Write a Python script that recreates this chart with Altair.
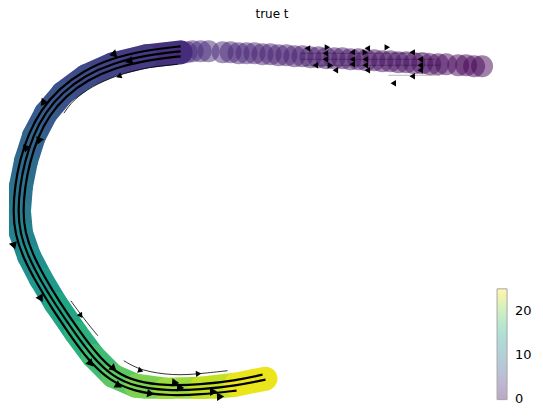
import pandas as pd
import altair as alt

# centre line of the trajectory (page-like units), with pseudotime t
band_x = [180, 145, 112, 85, 62, 45, 33, 25, 20, 18, 20, 28, 40, 55, 75, 92, 112, 135, 165, 200, 235, 265]
band_y = [51, 55, 63, 75, 92, 112, 135, 160, 185, 210, 232, 255, 278, 303, 332, 355, 375, 385, 389, 388, 384, 378]
band_t = [3, 3.8, 4.5, 5.2, 5.9, 6.6, 7.4, 8.2, 9, 9.9, 10.8, 11.8, 12.8, 14, 15.3, 16.6, 18, 19.4, 20.7, 22, 23.5, 25]

# loose cells along the top branch
top_x = [186, 192, 200, 208, 222, 230, 238, 246, 254, 262, 270, 278, 286, 294, 302, 310, 318, 326, 334, 342,
         350, 358, 366, 374, 382, 390, 398, 406, 414, 422, 430, 438, 446, 458, 466, 474, 482]
top_y = [51, 50, 50, 50, 51, 51, 52, 52, 52, 53, 53, 54, 54, 55, 55, 56, 56, 57, 57, 57,
         58, 58, 59, 59, 60, 60, 61, 61, 62, 62, 63, 63, 63, 64, 64, 65, 65]
top_t = [2.9, 2.85, 2.8, 2.75, 2.6, 2.55, 2.5, 2.4, 2.35, 2.3, 2.2, 2.1, 2.05, 1.95, 1.85, 1.8, 1.7, 1.6, 1.55, 1.45,
         1.4, 1.3, 1.2, 1.1, 1.05, 0.95, 0.9, 0.8, 0.7, 0.6, 0.5, 0.45, 0.35, 0.25, 0.15, 0.05, 0]

# thick streamlines
s1_x = [180, 144, 110, 82, 58, 40, 27.5, 19, 14, 12, 14, 22.5, 35, 50, 70, 87, 108.5, 133.5, 164.7, 200.4, 236]
s1_y = [45, 49, 57.3, 69.8, 87.6, 108.6, 132.7, 158.5, 184.2, 210, 233.3, 257.4, 280.9, 306.2, 335.5, 358.9, 379.9, 390.8, 395, 394, 389.9]
s2_x = [180, 145, 111.7, 84.5, 61.3, 44.2, 32.1, 24, 19, 17, 19, 27.1, 39.1, 54.2, 74.2, 91.2, 111.4, 134.8, 165, 200.1, 235.2, 265]
s2_y = [50, 54, 62, 74.1, 91.3, 111.4, 134.6, 159.8, 184.9, 210, 232.2, 255.4, 278.5, 303.5, 332.6, 355.7, 375.8, 386, 390, 389, 385, 379]
s3_x = [180, 145.6, 113.3, 87, 64.7, 48.3, 36.7, 28.9, 24, 22, 23.9, 31.7, 43.5, 58.4, 78.2, 95, 114.3, 136, 165.2, 199.7, 234.4, 262]
s3_y = [55, 59, 66.8, 78.4, 94.9, 114.2, 136.5, 161, 185.6, 210, 231.1, 253.4, 276, 300.8, 329.7, 352.4, 371.7, 381.1, 385, 384, 380, 374]

# thin streamlines
t1_x = [177, 146, 116, 91, 72, 63]
t1_y = [63, 66, 74, 85, 99, 112]
t2_x = [70, 83, 97]
t2_y = [300, 318, 335]
t3_x = [123, 140, 173, 200, 227]
t3_y = [360, 370, 375, 373, 370]
t4_x = [300, 430]
t4_y = [52, 52]
t5_x = [300, 435]
t5_y = [58, 58]
t6_x = [305, 440]
t6_y = [64, 64]
t7_x = [388, 440]
t7_y = [74, 74]

# arrow heads on thick lines (angle clockwise from pointing right)
arr_x = [112, 128, 42, 38, 25, 13, 40, 90, 113, 118, 150, 175, 180, 213, 220]
arr_y = [53, 60, 102, 140, 148, 245, 298, 363, 368, 385, 393, 382, 387, 391, 396]
arr_a = [165, 165, 127, 110, 107, 72, 60, 48, 40, 30, 9, 5, 5, 358, 358]

# arrow heads on thin lines
thin_x = [118, 80, 140, 198, 307, 327, 325, 325, 315, 330, 335, 352, 367, 365, 352, 365, 352, 365, 367, 387, 412, 420, 420, 420, 412, 393]
thin_y = [75, 315, 370, 373, 47, 46, 52, 58, 64, 64, 69, 51, 47, 51, 58, 58, 63, 64, 69, 46, 51, 58, 64, 69, 75, 82]
thin_a = [160, 56, 18, 355, 180, 0, 180, 180, 180, 0, 180, 180, 180, 0, 180, 180, 180, 180, 180, 0, 180, 180, 180, 180, 180, 180]

seg = pd.DataFrame({
    'x': band_x[:-1], 'y': band_y[:-1],
    'x2': band_x[1:], 'y2': band_y[1:],
    't': [(a + b) / 2 for a, b in zip(band_t[:-1], band_t[1:])],
})
cells = pd.DataFrame({'x': top_x, 'y': top_y, 't': top_t})


def lines_df(named):
    rows = []
    for name, xs, ys in named:
        for i, (a, b) in enumerate(zip(xs, ys)):
            rows.append({'line': name, 'i': i, 'x': a, 'y': b})
    return pd.DataFrame(rows)


thick = lines_df([('s1', s1_x, s1_y), ('s2', s2_x, s2_y), ('s3', s3_x, s3_y)])
thin = lines_df([('t1', t1_x, t1_y), ('t2', t2_x, t2_y), ('t3', t3_x, t3_y)])
faint = lines_df([('t4', t4_x, t4_y), ('t5', t5_x, t5_y), ('t6', t6_x, t6_y), ('t7', t7_x, t7_y)])
arrows = pd.DataFrame({'x': arr_x, 'y': arr_y, 'a': arr_a})
thin_arrows = pd.DataFrame({'x': thin_x, 'y': thin_y, 'a': thin_a})

xs = alt.Scale(domain=[8, 535])
ys = alt.Scale(domain=[24, 398], reverse=True)
X = alt.X('x:Q', scale=xs, axis=None)
Y = alt.Y('y:Q', scale=ys, axis=None)
# tiny margin below 0 so the "0" label sits centred on the bar end
tscale = alt.Scale(scheme='viridis', domain=[-0.1, 25])

band = alt.Chart(seg).mark_rule(strokeWidth=24, strokeCap='round', clip=True).encode(
    x=X, y=Y, x2='x2:Q', y2='y2:Q', color=alt.Color('t:Q', scale=tscale, legend=None)
)

dots = alt.Chart(cells).mark_circle(size=484, opacity=0.5, clip=True).encode(
    x=X, y=Y,
    color=alt.Color(
        't:Q', scale=tscale,
        legend=alt.Legend(
            type='gradient', orient='none', legendX=489, legendY=264, direction='vertical',
            gradientLength=111, gradientThickness=10,
            gradientStrokeColor='black', gradientStrokeWidth=1, gradientOpacity=0.35,
            values=[0, 10, 20], title=None, padding=0,
            labelFont='DejaVu Sans', labelFontSize=13, labelColor='black',
            labelOffset=8, labelBaseline='middle',
        ),
    ),
)

thick_lines = alt.Chart(thick).mark_line(color='black', strokeWidth=2.2, interpolate='basis').encode(
    x=X, y=Y, detail='line:N', order='i:Q'
)
thin_lines = alt.Chart(thin).mark_line(color='black', strokeWidth=0.8, interpolate='basis').encode(
    x=X, y=Y, detail='line:N', order='i:Q'
)
faint_lines = alt.Chart(faint).mark_line(color='black', strokeWidth=0.8, opacity=0.35).encode(
    x=X, y=Y, detail='line:N', order='i:Q'
)
heads = alt.Chart(arrows).mark_point(shape='triangle-right', filled=True, color='black', size=70, opacity=1).encode(
    x=X, y=Y, angle=alt.Angle('a:Q', scale=None)
)
thin_heads = alt.Chart(thin_arrows).mark_point(shape='triangle-right', filled=True, color='black', size=40, opacity=1).encode(
    x=X, y=Y, angle=alt.Angle('a:Q', scale=None)
)

chart = alt.layer(band, dots, thick_lines, thin_lines, faint_lines, heads, thin_heads).properties(
    width=527,
    height=374,
    padding=0,
    title=alt.TitleParams('true t', font='DejaVu Sans', fontSize=12, fontWeight='normal',
                          color='black', offset=4, anchor='middle'),
).resolve_legend(color='independent').configure_view(strokeWidth=0)

chart.save("out.html", embed_options={"renderer": "svg", "actions": False})
